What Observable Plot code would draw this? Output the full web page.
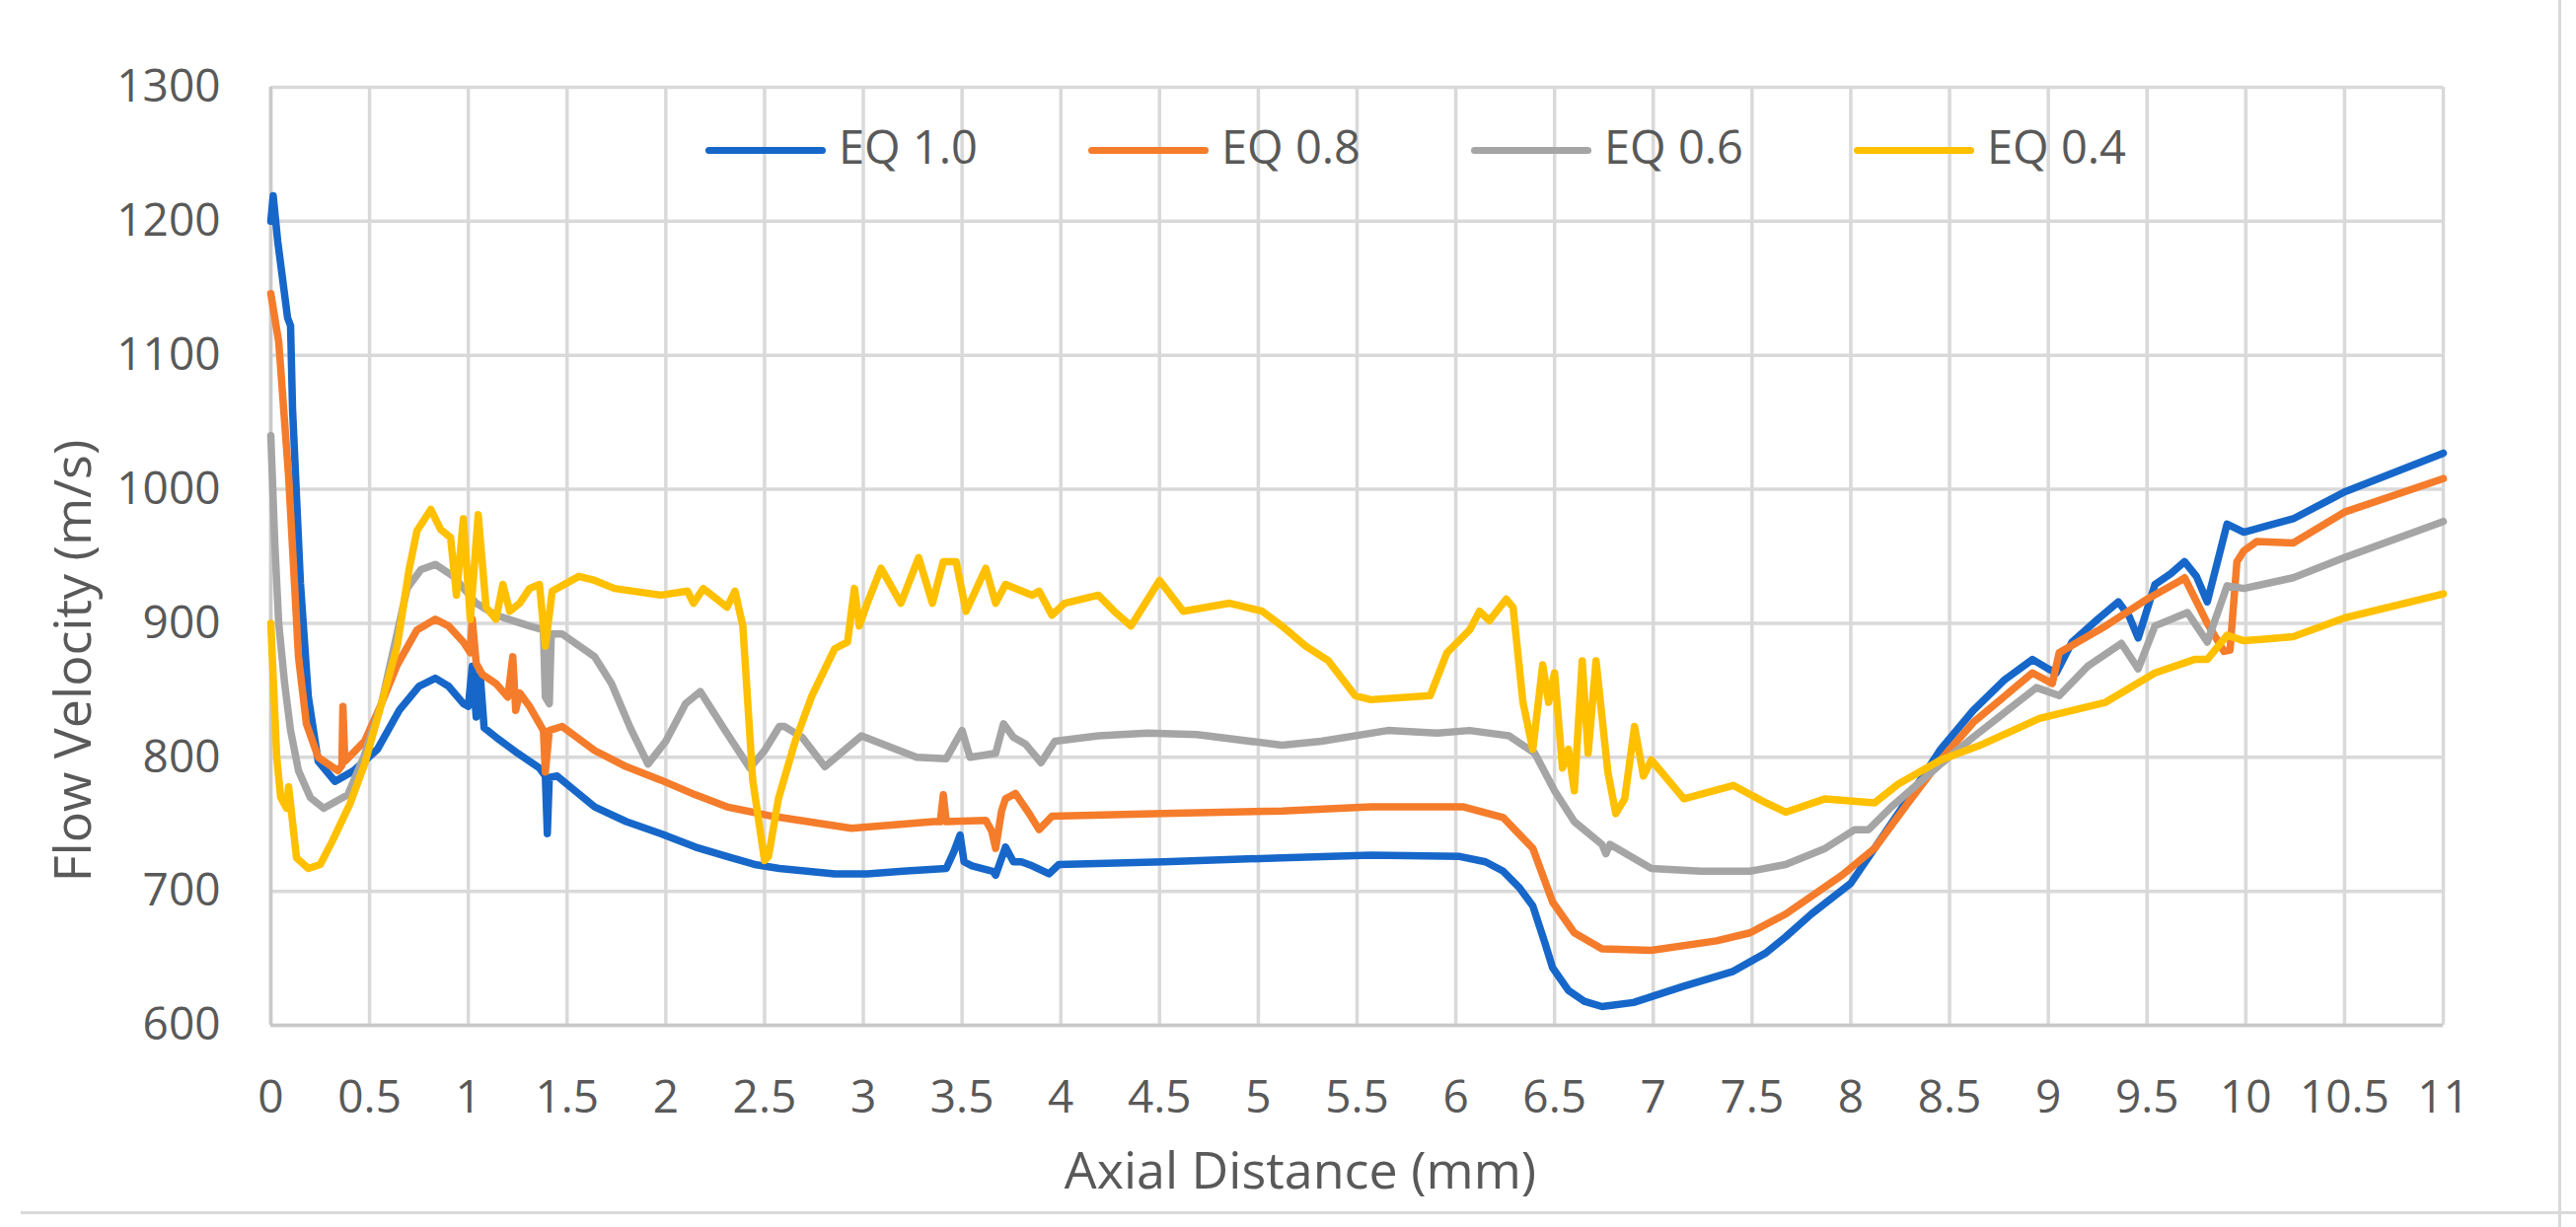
<!DOCTYPE html>
<html>
<head>
<meta charset="utf-8">
<script src="https://cdn.jsdelivr.net/npm/d3@7"></script>
<script src="https://cdn.jsdelivr.net/npm/@observablehq/plot@0.6"></script>
<style>
  html, body { margin: 0; padding: 0; background: #fff; }
  #wrap { position: relative; width: 2611px; height: 1244px; overflow: hidden; font-family: "Open Sans", "Noto Sans", sans-serif; color: #595959; }
  #wrap svg { position: absolute; left: 0; top: 0; }
  .ttl { position: absolute; font-size: 52px; line-height: 1; white-space: nowrap; color: #595959; }
  .leg-line { position: absolute; height: 7px; border-radius: 3.5px; }
  .leg-text { position: absolute; font-size: 47px; line-height: 1; white-space: nowrap; color: #595959; }
  .frame { position: absolute; background: #d9d9d9; }
</style>
</head>
<body>
<div id="wrap"></div>
<script>
// ---- data ----
const seriesNames = ["EQ 1.0", "EQ 0.8", "EQ 0.6", "EQ 0.4"];
const seriesColors = ["#1667c9", "#f57c2b", "#a5a5a5", "#ffc000"];
const xTicks = d3.range(0, 11.01, 0.5);
const yTicks = [600, 700, 800, 900, 1000, 1100, 1200, 1300];

const eq10 = [[0,1200],[0.012,1219],[0.035,1185],[0.085,1128],[0.1,1122],[0.11,1060],[0.15,930],[0.19,845],[0.24,797],[0.325,782],[0.42,790],[0.54,806],[0.65,835],[0.75,853],[0.833,859],[0.9,853],[0.975,840],[1.0,838],[1.02,868],[1.04,830],[1.06,862],[1.08,822],[1.14,815],[1.25,803],[1.36,792],[1.39,786],[1.4,743],[1.41,785],[1.45,786],[1.64,763],[1.8,752],[1.975,743],[2.15,733],[2.31,726],[2.45,720],[2.575,717],[2.855,713],[3.02,713],[3.2,715],[3.42,717],[3.46,730],[3.49,742],[3.51,722],[3.55,719],[3.655,715],[3.67,712],[3.72,733],[3.76,722],[3.8,722],[3.855,719],[3.94,713],[3.99,720],[4.52,722],[5.12,725],[5.57,727],[6.02,726],[6.15,722],[6.24,715],[6.32,703],[6.39,689],[6.45,662],[6.49,643],[6.57,626],[6.65,618],[6.74,614],[6.9,617],[7.15,629],[7.4,640],[7.57,654],[7.67,666],[7.8,683],[8.0,706],[8.12,732],[8.29,769],[8.455,806],[8.62,835],[8.78,858],[8.92,873],[9.0,866],[9.04,863],[9.12,886],[9.25,903],[9.355,916],[9.41,905],[9.455,889],[9.54,929],[9.62,937],[9.69,946],[9.75,935],[9.805,916],[9.905,974],[9.99,968],[10.24,978],[10.5,998],[11,1027]];

const eq08 = [[0,1146],[0.04,1110],[0.09,1010],[0.14,875],[0.18,825],[0.24,800],[0.34,790],[0.36,794],[0.365,838],[0.375,797],[0.475,812],[0.56,840],[0.64,869],[0.74,895],[0.833,903],[0.9,898],[0.975,886],[1.01,878],[1.02,903],[1.04,870],[1.07,862],[1.14,855],[1.2,845],[1.225,875],[1.24,835],[1.26,848],[1.31,838],[1.38,820],[1.39,789],[1.41,820],[1.475,823],[1.64,805],[1.8,793],[1.975,783],[2.15,772],[2.31,763],[2.54,756],[2.94,747],[3.355,752],[3.39,752],[3.405,772],[3.42,752],[3.62,753],[3.65,745],[3.67,732],[3.7,760],[3.72,769],[3.77,773],[3.84,758],[3.89,746],[3.955,756],[4.52,758],[5.12,760],[5.57,763],[6.04,763],[6.24,755],[6.39,732],[6.49,692],[6.6,669],[6.74,657],[6.99,656],[7.32,663],[7.49,669],[7.67,683],[7.955,712],[8.12,732],[8.29,766],[8.455,798],[8.62,826],[8.92,863],[9.02,855],[9.055,878],[9.29,898],[9.5,918],[9.67,932],[9.69,934],[9.805,900],[9.89,879],[9.92,880],[9.955,946],[9.99,954],[10.055,961],[10.24,960],[10.5,983],[11,1008]];

const eq06 = [[0,1040],[0.02,960],[0.04,900],[0.07,855],[0.1,820],[0.14,790],[0.2,770],[0.267,762],[0.39,772],[0.47,800],[0.56,840],[0.69,926],[0.76,940],[0.833,944],[0.925,935],[1.04,915],[1.14,906],[1.31,898],[1.38,895],[1.39,845],[1.41,840],[1.42,892],[1.475,892],[1.64,875],[1.725,855],[1.82,822],[1.91,795],[2.0,812],[2.1,840],[2.175,849],[2.3,820],[2.425,792],[2.5,805],[2.575,823],[2.6,823],[2.69,815],[2.805,793],[2.99,816],[3.27,800],[3.42,799],[3.5,820],[3.54,800],[3.67,803],[3.71,825],[3.76,815],[3.82,810],[3.9,796],[3.97,812],[4.19,816],[4.44,818],[4.69,817],[5.12,809],[5.32,812],[5.655,820],[5.905,818],[6.07,820],[6.27,816],[6.4,803],[6.5,775],[6.6,752],[6.74,735],[6.76,728],[6.78,735],[6.99,717],[7.24,715],[7.49,715],[7.67,720],[7.87,732],[8.02,746],[8.09,746],[8.205,763],[8.455,795],[8.62,815],[8.94,852],[9.055,846],[9.2,868],[9.37,885],[9.455,866],[9.54,898],[9.705,908],[9.805,886],[9.905,928],[9.99,926],[10.24,934],[10.5,949],[11,976]];

const eq04 = [[0,900],[0.03,800],[0.05,770],[0.08,762],[0.09,778],[0.1,765],[0.13,725],[0.19,717],[0.25,720],[0.31,737],[0.4,765],[0.475,795],[0.56,840],[0.64,883],[0.7,940],[0.74,969],[0.81,985],[0.86,970],[0.91,964],[0.94,921],[0.975,978],[1.01,903],[1.05,981],[1.09,912],[1.14,903],[1.175,929],[1.21,909],[1.26,915],[1.31,926],[1.36,929],[1.39,883],[1.425,924],[1.56,935],[1.64,932],[1.74,926],[1.975,921],[2.11,924],[2.14,915],[2.19,926],[2.31,912],[2.35,924],[2.39,898],[2.44,783],[2.5,723],[2.52,726],[2.57,769],[2.655,812],[2.74,846],[2.855,881],[2.92,886],[2.955,926],[2.98,898],[3.02,915],[3.09,941],[3.19,915],[3.28,949],[3.35,915],[3.405,946],[3.47,946],[3.52,909],[3.62,941],[3.67,915],[3.72,929],[3.855,921],[3.89,924],[3.955,906],[4.02,915],[4.19,921],[4.27,909],[4.355,898],[4.5,932],[4.62,909],[4.855,915],[5.02,909],[5.12,898],[5.24,883],[5.355,872],[5.49,846],[5.57,843],[5.87,846],[5.955,878],[6.07,895],[6.12,909],[6.17,902],[6.255,918],[6.29,912],[6.34,841],[6.39,806],[6.44,869],[6.47,841],[6.5,863],[6.54,792],[6.57,806],[6.6,775],[6.64,872],[6.67,803],[6.71,872],[6.77,789],[6.81,758],[6.855,769],[6.905,823],[6.95,786],[6.99,798],[7.155,769],[7.405,779],[7.57,766],[7.67,759],[7.87,769],[8.12,766],[8.24,780],[8.455,798],[8.655,809],[8.955,829],[9.29,841],[9.54,863],[9.74,873],[9.805,873],[9.905,891],[9.99,887],[10.24,890],[10.5,904],[11,922]];

const seriesData = [eq10, eq08, eq06, eq04];
const xTitle = "Axial Distance (mm)";
const yTitle = "Flow Velocity (m/s)";

// ---- build table ----
const rows = seriesData.flatMap((pts, i) => pts.map(([x, v]) => ({x, v, series: seriesNames[i]})));

const chart = Plot.plot({
  width: 2611,
  height: 1244,
  marginLeft: 274,
  marginRight: 135,
  marginTop: 88,
  marginBottom: 205,
  style: {fontFamily: "'Open Sans', 'Noto Sans', sans-serif", background: "transparent", overflow: "visible"},
  x: {domain: [0, 11], ticks: xTicks},
  y: {domain: [600, 1300], ticks: yTicks},
  color: {domain: seriesNames, range: seriesColors},
  marks: [
    Plot.gridX(xTicks, {stroke: "#d9d9d9", strokeOpacity: 1, strokeWidth: 3.5}),
    Plot.gridY(yTicks, {stroke: "#d9d9d9", strokeOpacity: 1, strokeWidth: 3.5}),
    Plot.ruleX([0], {stroke: "#c9c9c9", strokeWidth: 3.5}),
    Plot.ruleY([600], {stroke: "#c9c9c9", strokeWidth: 3.5}),
    Plot.line(rows, {x: "x", y: "v", z: "series", stroke: "series", strokeWidth: 7.5, strokeLinejoin: "round", strokeLinecap: "round"}),
    Plot.axisX(xTicks, {tickSize: 0, tickPadding: 56, fontSize: 46, fill: "#595959", label: null, tickFormat: d => String(d)}),
    Plot.axisY(yTicks, {tickSize: 0, tickPadding: 51, fontSize: 46, fill: "#595959", label: null, tickFormat: d => String(d)})
  ]
});

const wrap = document.getElementById("wrap");
wrap.appendChild(chart);

// frame lines of the figure panel
const fr1 = document.createElement("div"); fr1.className = "frame";
Object.assign(fr1.style, {left: "21px", top: "1228px", width: "2590px", height: "3px"});
wrap.appendChild(fr1);
const fr2 = document.createElement("div"); fr2.className = "frame";
Object.assign(fr2.style, {left: "2593px", top: "0px", width: "3px", height: "1244px"});
wrap.appendChild(fr2);

// axis titles
const xt = document.createElement("div"); xt.className = "ttl"; xt.textContent = xTitle;
Object.assign(xt.style, {left: "1318px", top: "1159px", transform: "translateX(-50%)"});
wrap.appendChild(xt);
const yt = document.createElement("div"); yt.className = "ttl"; yt.textContent = yTitle;
Object.assign(yt.style, {left: "72px", top: "670px", transform: "translate(-50%,-50%) rotate(-90deg)"});
wrap.appendChild(yt);

// legend
seriesNames.forEach((name, i) => {
  const x0 = 715 + i * 388;
  const ln = document.createElement("div"); ln.className = "leg-line";
  Object.assign(ln.style, {left: x0 + "px", top: (152 - 3.5) + "px", width: "122px", background: seriesColors[i]});
  wrap.appendChild(ln);
  const tx = document.createElement("div"); tx.className = "leg-text"; tx.textContent = name;
  Object.assign(tx.style, {left: (x0 + 135) + "px", top: (167 - 42) + "px"});
  wrap.appendChild(tx);
});
</script>
</body>
</html>
